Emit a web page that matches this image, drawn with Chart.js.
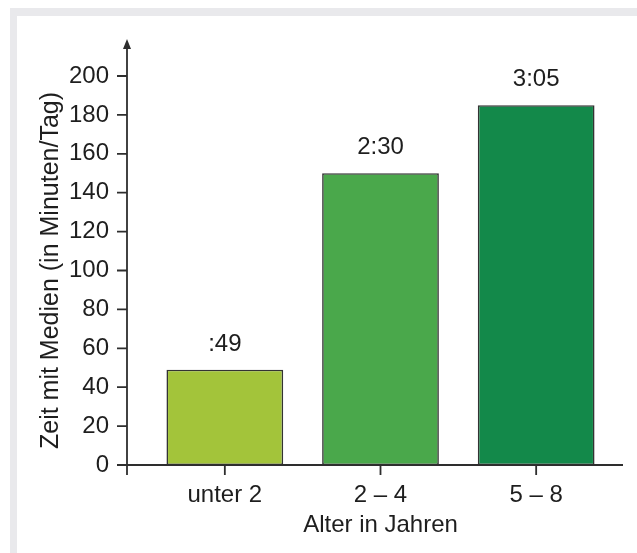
<!DOCTYPE html>
<html lang="de">
<head>
<meta charset="utf-8">
<title>Zeit mit Medien nach Alter</title>
<script src="https://cdn.jsdelivr.net/npm/chart.js@4/dist/chart.umd.min.js"></script>
<style>
  html, body { margin: 0; padding: 0; background: #ffffff; }
  #frame {
    position: absolute; left: 10px; top: 8px; width: 627px; height: 545px;
    box-sizing: border-box;
    border-top: 8px solid #e9e9ec; border-left: 7px solid #e9e9ec;
  }
  #wrap { position: absolute; left: 0; top: 0; width: 637px; height: 553px; }
</style>
</head>
<body>
<div id="frame"></div>
<div id="wrap"><canvas id="chart" width="637" height="553"></canvas></div>
<script>
// Altersgruppen und tägliche Mediennutzung (Median, Minuten pro Tag)
const categories = ['unter 2', '2 – 4', '5 – 8'];
const minutesPerDay = [49, 150, 185];
const valueLabels = [':49', '2:30', '3:05'];
const yTickStep = 20;
const yMax = 200;

const barColors = ['#a3c43a', '#4aa84b', '#13894a'];
const INK = '#1e1e1e';
const AXIS = '#2e2e2e';
const FONT = "'Liberation Sans', Arial, Helvetica, sans-serif";
const FONT_SIZE = 24;

// Achsen im Lehrbuchstil: Pfeil nach oben, Striche außen
const arrowAxes = {
  id: 'arrowAxes',
  afterDatasetsDraw(chart) {
    const { ctx, chartArea, scales: { x, y } } = chart;
    const ax = chartArea.left - 20;
    const y0 = y.getPixelForValue(0);
    const tipY = chartArea.top - 37;
    ctx.save();
    ctx.strokeStyle = AXIS;
    ctx.fillStyle = AXIS;
    ctx.lineWidth = 1.8;
    ctx.lineCap = 'butt';
    ctx.beginPath();
    // y-Achse
    ctx.moveTo(ax, y0 + 10);
    ctx.lineTo(ax, tipY + 6);
    // x-Achse
    ctx.moveTo(ax - 10, y0);
    ctx.lineTo(chartArea.right + 9, y0);
    // Striche an der y-Achse
    y.ticks.forEach(t => {
      const py = y.getPixelForValue(t.value);
      ctx.moveTo(ax - 10, py);
      ctx.lineTo(ax, py);
    });
    // Striche an der x-Achse
    categories.forEach((c, i) => {
      const px = x.getPixelForValue(i);
      ctx.moveTo(px, y0);
      ctx.lineTo(px, y0 + 10);
    });
    ctx.stroke();
    // Pfeilspitze
    ctx.beginPath();
    ctx.moveTo(ax, tipY);
    ctx.lineTo(ax - 4, tipY + 10);
    ctx.lineTo(ax + 4, tipY + 10);
    ctx.closePath();
    ctx.fill();
    ctx.restore();
  }
};

// Zeitangaben über den Säulen
const barValueLabels = {
  id: 'barValueLabels',
  afterDatasetsDraw(chart) {
    const { ctx } = chart;
    const meta = chart.getDatasetMeta(0);
    ctx.save();
    ctx.fillStyle = INK;
    ctx.font = FONT_SIZE + 'px ' + FONT;
    ctx.textAlign = 'center';
    ctx.textBaseline = 'alphabetic';
    meta.data.forEach((bar, i) => {
      ctx.fillText(valueLabels[i], bar.x, bar.y - 19);
    });
    ctx.restore();
  }
};

new Chart(document.getElementById('chart'), {
  type: 'bar',
  data: {
    labels: categories,
    datasets: [{
      data: minutesPerDay,
      backgroundColor: barColors,
      borderColor: '#333333',
      borderWidth: 1.6,
      borderSkipped: false,
      categoryPercentage: 1,
      barPercentage: 0.75
    }]
  },
  options: {
    responsive: false,
    animation: false,
    devicePixelRatio: 1,
    layout: { padding: { top: 76, right: 23, left: 0, bottom: 0 } },
    plugins: {
      legend: { display: false },
      tooltip: { enabled: false }
    },
    scales: {
      x: {
        offset: true,
        grid: { display: false, drawTicks: false },
        border: { display: false },
        ticks: {
          color: INK,
          padding: 16,
          font: { family: FONT, size: FONT_SIZE }
        },
        title: {
          display: true,
          text: 'Alter in Jahren',
          color: INK,
          font: { family: FONT, size: FONT_SIZE },
          padding: { top: 0, bottom: 13 }
        },
        afterFit(scale) { scale.height = 88; }
      },
      y: {
        min: 0,
        max: yMax,
        grid: { display: false, drawTicks: false },
        border: { display: false },
        ticks: {
          stepSize: yTickStep,
          color: INK,
          padding: 38,
          font: { family: FONT, size: FONT_SIZE }
        },
        title: {
          display: true,
          text: 'Zeit mit Medien (in Minuten/Tag)',
          color: INK,
          font: { family: FONT, size: 25 },
          padding: { top: 36, bottom: 0 }
        },
        afterFit(scale) { scale.width = 147; }
      }
    }
  },
  plugins: [arrowAxes, barValueLabels]
});
</script>
</body>
</html>
